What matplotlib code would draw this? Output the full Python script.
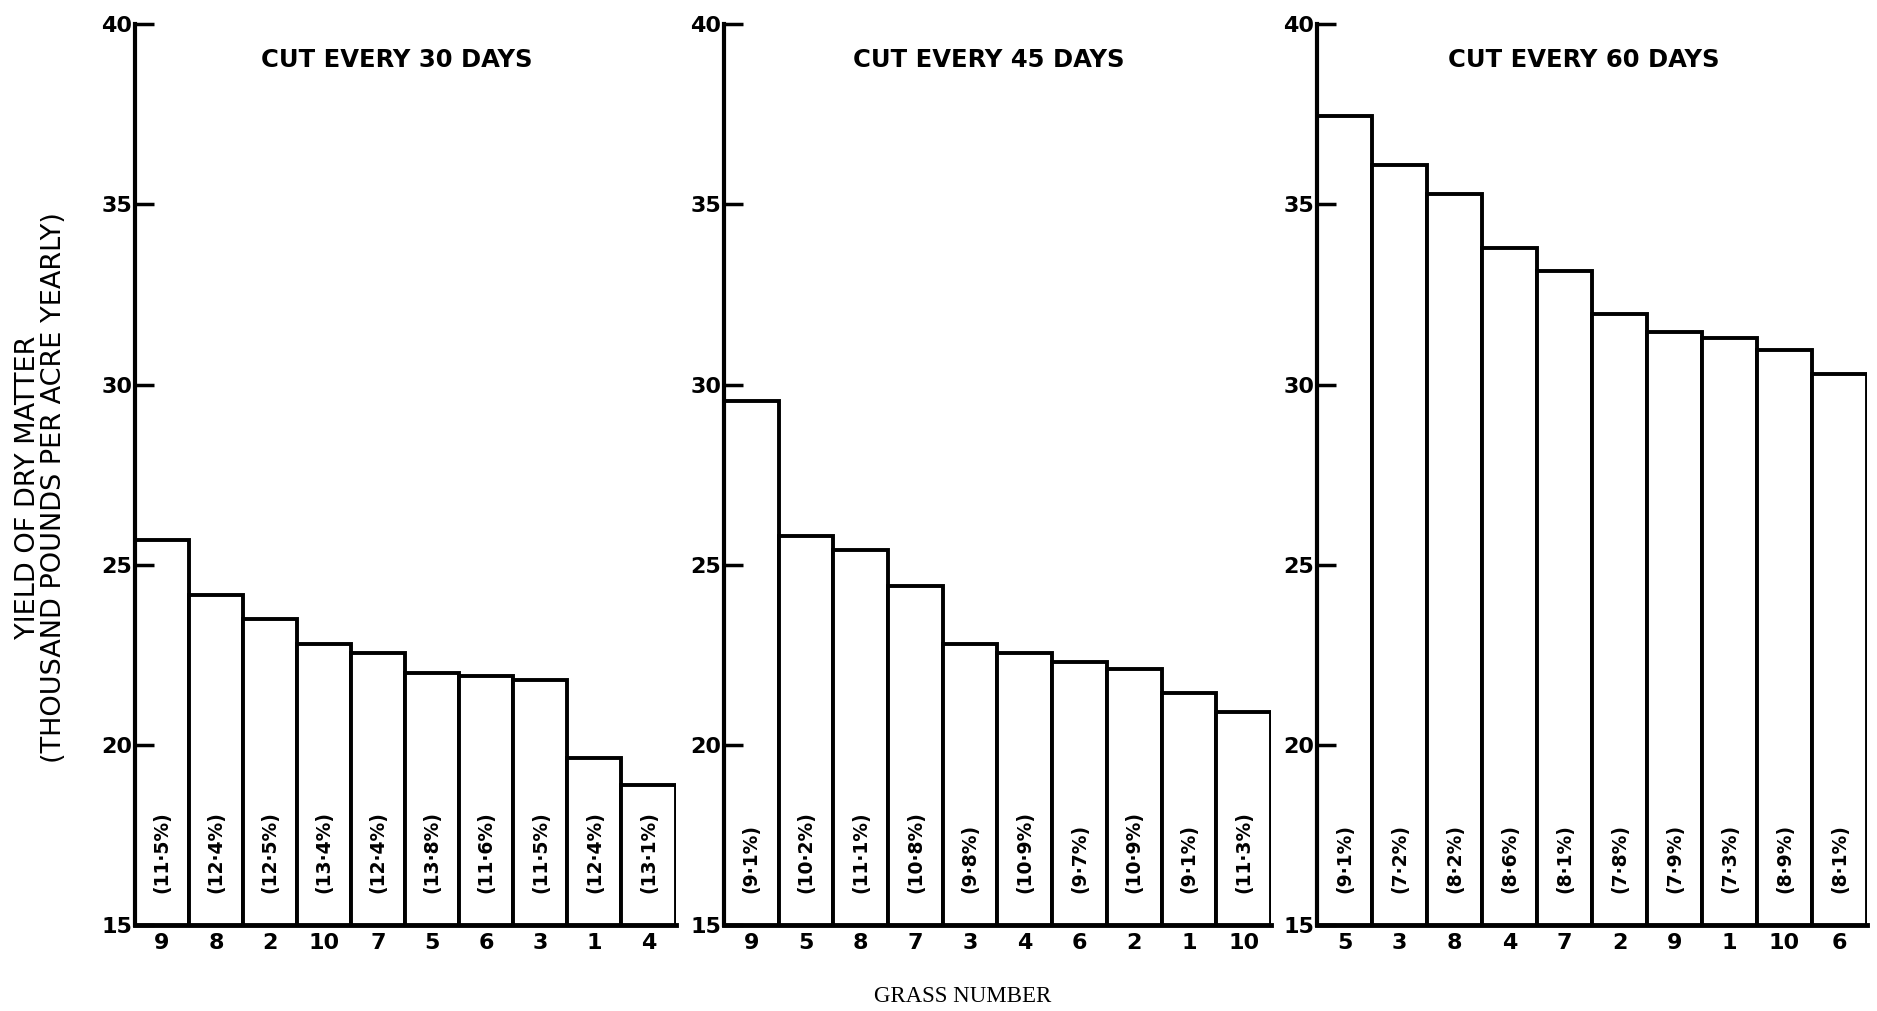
import matplotlib
matplotlib.use('Agg')
import matplotlib.pyplot as plt
import numpy as np

# grass numbers, yields (thousand lb/acre/yr) and protein % for each cutting interval
grass_30 = ['9', '8', '2', '10', '7', '5', '6', '3', '1', '4']
yield_30 = [25.7, 24.15, 23.5, 22.8, 22.55, 22.0, 21.9, 21.8, 19.65, 18.9]
pct_30 = ['11·5', '12·4', '12·5', '13·4', '12·4', '13·8', '11·6', '11·5', '12·4', '13·1']

grass_45 = ['9', '5', '8', '7', '3', '4', '6', '2', '1', '10']
yield_45 = [29.55, 25.8, 25.4, 24.4, 22.8, 22.55, 22.3, 22.1, 21.45, 20.9]
pct_45 = ['9·1', '10·2', '11·1', '10·8', '9·8', '10·9', '9·7', '10·9', '9·1', '11·3']

grass_60 = ['5', '3', '8', '4', '7', '2', '9', '1', '10', '6']
yield_60 = [37.45, 36.1, 35.3, 33.8, 33.15, 31.95, 31.45, 31.3, 30.95, 30.3]
pct_60 = ['9·1', '7·2', '8·2', '8·6', '8·1', '7·8', '7·9', '7·3', '8·9', '8·1']

titles = ['CUT EVERY 30 DAYS', 'CUT EVERY 45 DAYS', 'CUT EVERY 60 DAYS']
yticks = [15, 20, 25, 30, 35, 40]

fig = plt.figure(figsize=(18.77, 10.11), dpi=100)
boxes = [(0.0719, 0.085, 0.288, 0.891),
         (0.3857, 0.085, 0.2914, 0.891),
         (0.7017, 0.085, 0.293, 0.891)]

panels = [(grass_30, yield_30, pct_30), (grass_45, yield_45, pct_45),
          (grass_60, yield_60, pct_60)]

for box, (grass, ylds, pcts), title in zip(boxes, panels, titles):
    ax = fig.add_axes(box)
    x = np.arange(len(grass))
    ax.bar(x, ylds, width=1.0, color='white', edgecolor='black', linewidth=2.8)
    ax.set_xlim(-0.5, len(grass) - 0.5)
    ax.set_ylim(15, 40)
    for s in ['top', 'right']:
        ax.spines[s].set_visible(False)
    ax.spines['left'].set_linewidth(3)
    ax.spines['bottom'].set_linewidth(3.5)
    ax.set_yticks(yticks)
    ax.set_yticklabels([str(t) for t in yticks], fontsize=16, fontweight='bold')
    ax.tick_params(axis='y', direction='in', length=14, width=2.5, pad=2)
    ax.set_xticks(x)
    ax.set_xticklabels(grass, fontsize=16, fontweight='bold')
    ax.tick_params(axis='x', length=0, pad=6)
    for xi, p in zip(x, pcts):
        ax.text(xi, 15.9, '(' + p + '%)', rotation=90, ha='center', va='bottom',
                fontsize=13.5, fontweight='bold')
    ax.text((len(grass) - 1) / 2 - 0.15, 39.0, title, ha='center', va='center',
            fontsize=17.5, fontweight='bold')

fig.text(0.022, 0.518, 'YIELD OF DRY MATTER\n(THOUSAND POUNDS PER ACRE YEARLY)',
         rotation=90, ha='center', va='center', fontsize=19.5, multialignment='center',
         linespacing=1.0)
fig.text(0.513, 0.014, 'GRASS NUMBER', ha='center', va='center', fontsize=16.5,
         family='Liberation Serif')

plt.savefig('out.png', dpi=100)
